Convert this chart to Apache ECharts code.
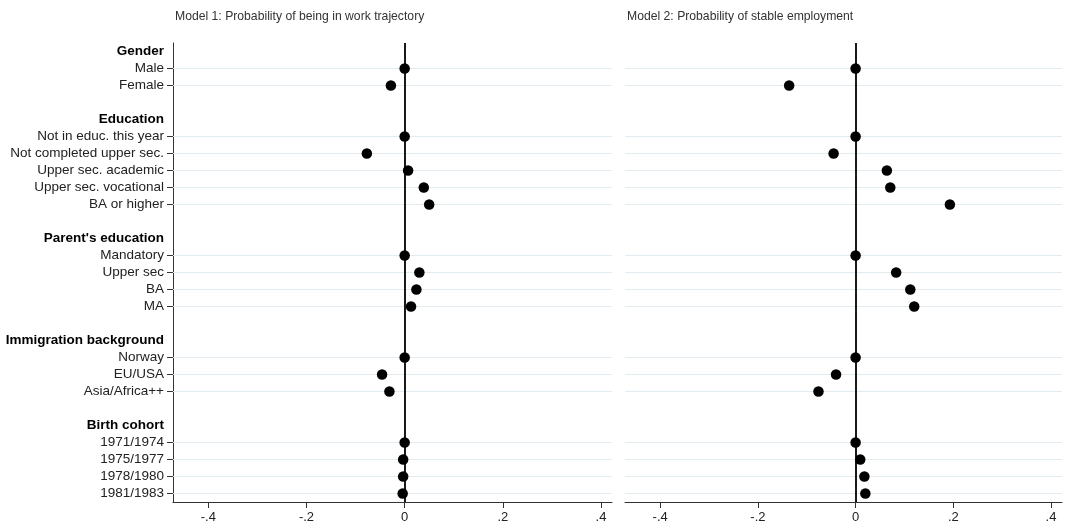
<!DOCTYPE html>
<html>
<head>
<meta charset="utf-8">
<script src="https://cdn.jsdelivr.net/npm/echarts@6/dist/echarts.min.js"></script>
<style>
  html, body { margin: 0; padding: 0; background: #fff; }
  #chart { width: 1065px; height: 525px; }
</style>
</head>
<body>
<div id="chart"></div>
<script>
// rows of the y axis, top to bottom (blank strings are spacer rows)
const categories = [
  'Gender', 'Male', 'Female', ' ',
  'Education', 'Not in educ. this year', 'Not completed upper sec.', 'Upper sec. academic', 'Upper sec. vocational', 'BA or higher', '  ',
  "Parent's education", 'Mandatory', 'Upper sec', 'BA', 'MA', '   ',
  'Immigration background', 'Norway', 'EU/USA', 'Asia/Africa++', '    ',
  'Birth cohort', '1971/1974', '1975/1977', '1978/1980', '1981/1983'
]
const headers = ['Gender', 'Education', "Parent's education", 'Immigration background', 'Birth cohort']
const items = [
  'Male', 'Female',
  'Not in educ. this year', 'Not completed upper sec.', 'Upper sec. academic', 'Upper sec. vocational', 'BA or higher',
  'Mandatory', 'Upper sec', 'BA', 'MA',
  'Norway', 'EU/USA', 'Asia/Africa++',
  '1971/1974', '1975/1977', '1978/1980', '1981/1983'
]
const model1Values = [
  0, -0.028,
  0, -0.077, 0.007, 0.039, 0.050,
  0, 0.030, 0.024, 0.013,
  0, -0.046, -0.031,
  0, -0.003, -0.003, -0.004
]
const model2Values = [
  0, -0.136,
  0, -0.045, 0.064, 0.071, 0.193,
  0, 0.083, 0.112, 0.120,
  0, -0.040, -0.076,
  0, 0.0095, 0.018, 0.020
]
const xTicks = [-0.4, -0.2, 0, 0.2, 0.4]
const titles = ['Model 1: Probability of being in work trajectory', 'Model 2: Probability of stable employment']

const FONT = 'Liberation Sans, Arial, sans-serif'
const chart = echarts.init(document.getElementById('chart'))

const fmtTick = v => {
  if (v === 0) return '0'
  const s = String(Math.round(v * 10) / 10)
  return s.replace('0.', '.')
}

const xAxisFor = idx => ({
  type: 'value',
  gridIndex: idx,
  min: -0.472,
  max: 0.4225,
  axisLine: { show: true, lineStyle: { color: '#333', width: 1 } },
  axisTick: { show: true, customValues: xTicks, length: 6, lineStyle: { color: '#333' } },
  axisLabel: {
    customValues: xTicks,
    formatter: fmtTick,
    color: '#222',
    fontSize: 13,
    fontFamily: FONT,
    margin: 9
  },
  splitLine: { show: false }
})

const yAxisFor = idx => ({
  type: 'category',
  gridIndex: idx,
  data: categories,
  inverse: true,
  boundaryGap: true,
  axisLine: { show: idx === 0, onZero: false, lineStyle: { color: '#333', width: 1 } },
  axisTick: {
    show: idx === 0,
    alignWithLabel: true,
    length: 6,
    interval: (i, v) => items.includes(v),
    lineStyle: { color: '#333' }
  },
  axisLabel: {
    show: idx === 0,
    interval: 0,
    margin: 9,
    color: '#222',
    fontSize: 13.5,
    fontFamily: FONT,
    formatter: v => headers.includes(v) ? '{h|' + v + '}' : v,
    rich: { h: { fontWeight: 'bold', color: '#000', fontSize: 13.5, fontFamily: FONT } }
  },
  splitLine: { show: false }
})

const guideSeries = idx => ({
  type: 'scatter',
  xAxisIndex: idx,
  yAxisIndex: idx,
  data: [],
  z: 1,
  silent: true,
  markLine: {
    silent: true,
    symbol: ['none', 'none'],
    label: { show: false },
    animation: false,
    data: items.map(c => ({ yAxis: c, lineStyle: { color: '#e2ecf0', width: 1, type: 'solid' } }))
      .concat([{ xAxis: 0, lineStyle: { color: '#000', width: 1.8, type: 'solid' } }])
  }
})

const dotSeries = (idx, vals) => ({
  type: 'scatter',
  xAxisIndex: idx,
  yAxisIndex: idx,
  z: 5,
  symbol: 'circle',
  symbolSize: 10.5,
  itemStyle: { color: '#000', opacity: 1 },
  data: items.map((c, i) => [vals[i], c])
})

const option = {
  backgroundColor: '#fff',
  animation: false,
  title: [
    { text: titles[0], left: 170, top: 6, textStyle: { fontSize: 12.2, fontWeight: 'normal', color: '#333', fontFamily: FONT } },
    { text: titles[1], left: 622, top: 6, textStyle: { fontSize: 12.2, fontWeight: 'normal', color: '#333', fontFamily: FONT } }
  ],
  grid: [
    { left: 173, top: 43, width: 439, height: 459 },
    { left: 625, top: 43, width: 437, height: 459 }
  ],
  xAxis: [xAxisFor(0), xAxisFor(1)],
  yAxis: [yAxisFor(0), yAxisFor(1)],
  series: [
    guideSeries(0),
    guideSeries(1),
    dotSeries(0, model1Values),
    dotSeries(1, model2Values)
  ]
}

chart.setOption(option)
</script>
</body>
</html>
